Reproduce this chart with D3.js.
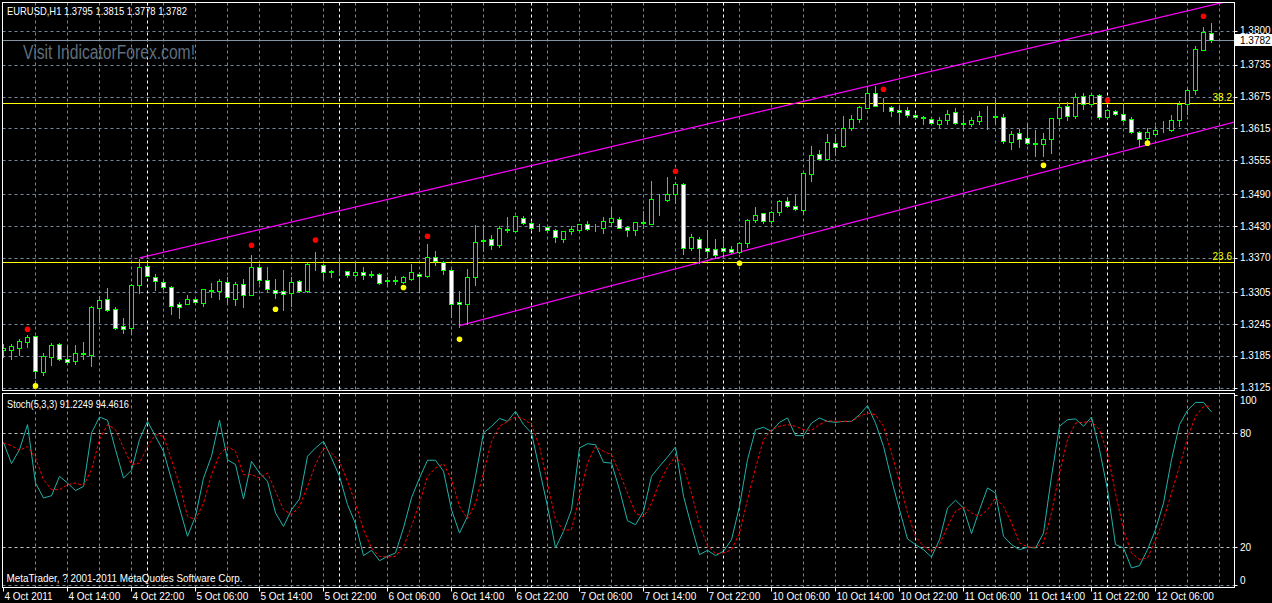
<!DOCTYPE html>
<html><head><meta charset="utf-8">
<script src="https://cdn.jsdelivr.net/npm/d3@7"></script>
<style>html,body{margin:0;padding:0;background:#000;overflow:hidden}</style>
</head><body>
<svg id="c" width="1272" height="603"></svg>
<script>
// ---------- DATA ----------
const symbolTitle = "EURUSD,H1  1.3795 1.3815 1.3778 1.3782";
const stochTitle = "Stoch(5,3,3) 91.2249 94.4616";
const watermark = "Visit IndicatorForex.com!";
const copyright = "MetaTrader, ? 2001-2011 MetaQuotes Software Corp.";

const opens = [1.3196,1.3195,1.3200,1.3211,1.3222,1.3155,1.3183,1.3207,1.3179,1.3176,
1.3190,1.3186,1.3276,1.3292,1.3273,1.3241,1.3237,1.3319,1.3355,1.3334,
1.3324,1.3315,1.3282,1.3283,1.3292,1.3285,1.3309,1.3308,1.3324,1.3293,
1.3321,1.3300,1.3352,1.3329,1.3309,1.3307,1.3304,1.3326,1.3308,1.3356,
1.3357,1.3344,1.3345,1.3345,1.3338,1.3343,1.3338,1.3340,1.3327,1.3328,
1.3325,1.3330,1.3340,1.3335,1.3372,1.3363,1.3348,1.3286,1.3282,1.3333,
1.3402,1.3406,1.3394,1.3425,1.3420,1.3446,1.3436,1.3426,1.3428,1.3423,
1.3406,1.3420,1.3423,1.3434,1.3424,1.3426,1.3437,1.3443,1.3429,1.3423,
1.3437,1.3435,1.3481,1.3479,1.3491,1.3509,1.3389,1.3406,1.3388,1.3386,
1.3388,1.3386,1.3382,1.3398,1.3441,1.3454,1.3439,1.3456,1.3477,1.3469,
1.3461,1.3529,1.3566,1.3557,1.3587,1.3581,1.3615,1.3632,1.3654,1.3681,
1.3658,1.3656,1.3649,1.3649,1.3641,1.3636,1.3632,1.3624,1.3630,1.3645,
1.3625,1.3624,1.3628,1.3638,1.3639,1.3636,1.3590,1.3606,1.3596,1.3587,
1.3586,1.3595,1.3635,1.3657,1.3639,1.3676,1.3661,1.3678,1.3637,1.3647,
1.3643,1.3632,1.3608,1.3596,1.3605,1.3611,1.3612,1.3631,1.3661,1.3687,
1.3764,1.3795];
const highs = [1.3207,1.3207,1.3217,1.3224,1.3222,1.3190,1.3209,1.3209,1.3205,1.3205,
1.3211,1.3280,1.3298,1.3313,1.3278,1.3256,1.3321,1.3368,1.3358,1.3339,
1.3326,1.3316,1.3287,1.3300,1.3294,1.3311,1.3323,1.3330,1.3333,1.3325,
1.3330,1.3375,1.3358,1.3352,1.3330,1.3347,1.3333,1.3329,1.3361,1.3381,
1.3358,1.3347,1.3375,1.3346,1.3363,1.3352,1.3345,1.3342,1.3333,1.3335,
1.3335,1.3358,1.3344,1.3396,1.3383,1.3364,1.3349,1.3307,1.3349,1.3432,
1.3432,1.3414,1.3430,1.3448,1.3449,1.3449,1.3437,1.3434,1.3429,1.3424,
1.3421,1.3430,1.3434,1.3439,1.3435,1.3447,1.3462,1.3448,1.3431,1.3438,
1.3459,1.3515,1.3490,1.3523,1.3514,1.3511,1.3415,1.3409,1.3423,1.3405,
1.3408,1.3393,1.3401,1.3444,1.3466,1.3455,1.3459,1.3480,1.3485,1.3489,
1.3531,1.3582,1.3575,1.3604,1.3604,1.3638,1.3640,1.3657,1.3693,1.3696,
1.3672,1.3657,1.3657,1.3656,1.3642,1.3639,1.3634,1.3637,1.3650,1.3653,
1.3640,1.3636,1.3647,1.3657,1.3672,1.3642,1.3610,1.3614,1.3626,1.3612,
1.3606,1.3635,1.3662,1.3665,1.3681,1.3681,1.3679,1.3679,1.3651,1.3650,
1.3662,1.3637,1.3610,1.3615,1.3619,1.3628,1.3640,1.3667,1.3690,1.3771,
1.3806,1.3815];
const lows = [1.3183,1.3179,1.3186,1.3202,1.3143,1.3148,1.3168,1.3177,1.3170,1.3169,
1.3179,1.3166,1.3248,1.3270,1.3236,1.3228,1.3226,1.3303,1.3335,1.3309,
1.3311,1.3264,1.3256,1.3282,1.3284,1.3280,1.3296,1.3292,1.3282,1.3281,
1.3278,1.3299,1.3323,1.3308,1.3295,1.3271,1.3280,1.3305,1.3305,1.3347,
1.3328,1.3333,1.3337,1.3333,1.3334,1.3330,1.3333,1.3321,1.3317,1.3320,
1.3322,1.3329,1.3306,1.3334,1.3357,1.3340,1.3259,1.3240,1.3245,1.3319,
1.3384,1.3387,1.3391,1.3419,1.3419,1.3434,1.3424,1.3420,1.3419,1.3401,
1.3401,1.3416,1.3420,1.3423,1.3420,1.3418,1.3430,1.3426,1.3411,1.3413,
1.3426,1.3434,1.3451,1.3478,1.3474,1.3378,1.3385,1.3361,1.3372,1.3369,
1.3379,1.3380,1.3379,1.3391,1.3437,1.3436,1.3436,1.3451,1.3467,1.3461,
1.3453,1.3516,1.3555,1.3555,1.3565,1.3579,1.3611,1.3627,1.3653,1.3657,
1.3647,1.3639,1.3623,1.3637,1.3634,1.3623,1.3623,1.3615,1.3623,1.3623,
1.3612,1.3620,1.3623,1.3614,1.3623,1.3588,1.3576,1.3580,1.3585,1.3563,
1.3563,1.3569,1.3622,1.3631,1.3635,1.3651,1.3659,1.3632,1.3634,1.3641,
1.3629,1.3606,1.3582,1.3587,1.3603,1.3609,1.3610,1.3619,1.3643,1.3680,
1.3763,1.3778];
const closes = [1.3200,1.3203,1.3213,1.3220,1.3156,1.3184,1.3205,1.3178,1.3174,1.3190,
1.3189,1.3277,1.3290,1.3272,1.3238,1.3236,1.3319,1.3353,1.3335,1.3326,
1.3315,1.3280,1.3278,1.3292,1.3286,1.3311,1.3308,1.3326,1.3296,1.3321,
1.3299,1.3352,1.3328,1.3311,1.3304,1.3302,1.3325,1.3308,1.3358,1.3357,
1.3343,1.3345,1.3346,1.3338,1.3343,1.3338,1.3339,1.3323,1.3328,1.3327,
1.3333,1.3343,1.3335,1.3371,1.3365,1.3348,1.3283,1.3282,1.3334,1.3401,
1.3404,1.3395,1.3427,1.3423,1.3449,1.3436,1.3426,1.3426,1.3423,1.3409,
1.3420,1.3425,1.3434,1.3424,1.3425,1.3439,1.3445,1.3427,1.3422,1.3437,
1.3436,1.3481,1.3482,1.3491,1.3509,1.3389,1.3409,1.3389,1.3384,1.3376,
1.3383,1.3382,1.3398,1.3442,1.3452,1.3439,1.3456,1.3477,1.3469,1.3463,
1.3530,1.3564,1.3557,1.3589,1.3580,1.3615,1.3632,1.3655,1.3681,1.3658,
1.3657,1.3647,1.3645,1.3640,1.3636,1.3634,1.3625,1.3630,1.3643,1.3625,
1.3624,1.3630,1.3638,1.3639,1.3637,1.3591,1.3604,1.3595,1.3587,1.3586,
1.3595,1.3635,1.3655,1.3639,1.3675,1.3661,1.3678,1.3637,1.3649,1.3643,
1.3631,1.3609,1.3595,1.3608,1.3611,1.3612,1.3631,1.3661,1.3687,1.3765,
1.3797,1.3782];

const stochMain = [75.2,64.0,71.4,84.6,53.8,45.9,47.1,57.3,53.8,49.8,52.0,80.2,88.6,86.9,71.4,56.4,60.5,76.7,86.3,78.4,
70.5,55.6,40.6,25.7,36.2,56.4,67.9,86.9,66.1,63.5,45.4,65.2,59.1,54.7,38.0,30.9,39.7,45.4,67.9,72.3,
75.8,67.0,57.3,42.4,32.3,15.5,18.3,12.8,15.1,16.9,30.1,46.0,
56.4,65.8,65.8,60.0,39.7,27.4,36.2,57.3,80.2,83.7,87.9,86.3,91.6,84.6,80.2,60.8,41.5,19.5,28.3,39.7,
72.3,74.5,74.0,64.7,64.3,50.3,33.9,31.8,38.9,57.3,62.6,67.5,72.8,46.8,30.9,16.0,18.3,15.5,17.8,23.9,
41.5,66.1,81.9,83.2,81.0,85.8,88.1,78.8,78.8,85.4,88.1,
86.3,85.8,86.3,86.3,89.8,94.6,85.4,73.1,55.6,39.7,24.3,21.3,18.6,14.8,23.9,40.6,44.7,40.6,27.1,39.7,
51.2,48.5,25.7,21.3,18.6,20.0,19.5,27.4,57.3,83.7,87.2,87.6,83.7,88.6,71.4,50.3,21.3,19.5,9.0,10.2,
18.6,29.2,43.2,66.1,84.6,92.1,96.3,96.3,91.2249];
const stochSignal = [74.9,73.5,71.0,73.1,67.0,55.6,50.3,50.3,52.9,53.8,52.4,60.8,76.7,84.6,81.9,72.3,63.5,64.3,73.1,79.3,
78.4,66.1,52.9,36.2,34.5,43.2,58.2,68.7,73.1,70.5,58.2,58.2,56.4,59.1,49.4,39.7,37.1,41.5,52.0,63.5,
72.3,69.6,65.2,54.7,43.2,29.2,19.5,15.1,14.8,15.1,20.4,30.9,
43.2,57.3,61.7,64.0,55.6,41.5,34.8,43.2,59.1,75.8,83.7,86.3,88.6,87.6,84.6,73.1,53.8,34.5,28.8,29.2,
46.8,64.3,73.1,70.5,68.7,59.1,48.5,38.0,35.9,43.2,54.1,62.2,67.9,62.6,48.5,31.8,20.7,16.5,16.9,18.6,
27.4,45.0,61.7,76.7,81.9,83.7,84.6,83.7,81.9,81.6,84.6,
86.7,86.3,86.3,86.3,89.0,90.7,89.8,83.7,69.6,54.7,38.0,25.7,20.4,17.8,21.3,30.9,38.9,41.1,38.0,36.2,
39.7,45.9,41.5,32.7,22.2,20.0,19.9,22.2,38.0,59.1,76.7,85.4,85.8,86.3,81.9,69.6,48.5,29.2,16.9,13.4,
14.2,23.9,34.5,48.5,62.6,77.5,89.0,94.2,94.4616];

const priceTicks = ["1.3800","1.3735","1.3675","1.3615","1.3555","1.3490","1.3430","1.3370","1.3305","1.3245","1.3185","1.3125"];
const stochTicks = [100, 80, 20, 0];
const stochLevels = [80, 20];
const timeLabels = ["4 Oct 2011","4 Oct 14:00","4 Oct 22:00","5 Oct 06:00","5 Oct 14:00","5 Oct 22:00","6 Oct 06:00","6 Oct 14:00","6 Oct 22:00","7 Oct 06:00","7 Oct 14:00","7 Oct 22:00","10 Oct 06:00","10 Oct 14:00","10 Oct 22:00","11 Oct 06:00","11 Oct 14:00","11 Oct 22:00","12 Oct 06:00"];
const timeLabelBars = [0,8,16,24,32,40,48,56,64,72,80,88,96,104,112,120,128,136,144];
const daySeparatorBars = [18,42,66,90,114,138];
const currentPrice = 1.3782;
const fibLabels = ["38.2","23.6"];
const fibPrices = [1.3662, 1.3362];
const upperChannelBars = [17, 100], upperChannelPrices = [1.3370, 1.3666];
const lowerChannelBars = [57, 138], lowerChannelPrices = [1.3242, 1.3564];
const upDotBars = [3,31,39,53,84,110,138,150];
const upDotPrices = [1.3235,1.3394,1.3404,1.3411,1.3534,1.3689,1.3668,1.3827];
const downDotBars = [4,34,50,57,92,130,143];
const downDotPrices = [1.3128,1.3273,1.3314,1.3216,1.3360,1.3545,1.3587];

// ---------- LAYOUT ----------
const L = 2.5, R = 1234.5, mTop = 2.5, mBot = 390.5, sTop = 393.5, sBot = 587.5;
const FONT = "'Liberation Sans', Arial, sans-serif";
const GRID = "#778899";

const svg = d3.select("#c");
svg.append("rect").attr("width",1272).attr("height",603).attr("fill","#000");

const x = d3.scaleLinear().domain([0,151]).range([3.5,1211.5]);
const yP = d3.scaleLinear().domain([1.3125,1.3800]).range([387.5,30.5]);
const yS = d3.scaleLinear().domain([0,100]).range([585,395.4]);
const py = v => Math.round(yP(v)) + 0.5;

const defs = svg.append("defs");
defs.append("clipPath").attr("id","mclip").append("rect")
  .attr("x",L+0.5).attr("y",mTop+0.5).attr("width",R-L-1).attr("height",mBot-mTop-1);
defs.append("clipPath").attr("id","sclip").append("rect")
  .attr("x",L+0.5).attr("y",sTop+0.5).attr("width",R-L-1).attr("height",sBot-sTop-1);

// grid - vertical
const gridBars = d3.range(4, 154, 4);
const gv = svg.append("g").attr("stroke",GRID).attr("stroke-dasharray","3,3");
gridBars.forEach(b => {
  if (x(b) >= R) return;
  gv.append("line").attr("x1",x(b)).attr("x2",x(b)).attr("y1",mTop).attr("y2",mBot);
  gv.append("line").attr("x1",x(b)).attr("x2",x(b)).attr("y1",sTop).attr("y2",sBot);
});
// grid - horizontal main
priceTicks.forEach(t => {
  gv.append("line").attr("x1",L).attr("x2",R).attr("y1",py(+t)).attr("y2",py(+t));
});
// stoch bottom grid
gv.append("line").attr("x1",L).attr("x2",R).attr("y1",Math.round(yS(0))+0.5).attr("y2",Math.round(yS(0))+0.5);
// stoch levels
const lv = svg.append("g").attr("stroke","#c0c0c0").attr("stroke-dasharray","3,3");
stochLevels.forEach(v => {
  const yy = Math.round(yS(v))+0.5;
  lv.append("line").attr("x1",L).attr("x2",R).attr("y1",yy).attr("y2",yy);
});
// day separators
const ds = svg.append("g").attr("stroke","#ffffff").attr("stroke-dasharray","3,3");
daySeparatorBars.forEach(b => {
  ds.append("line").attr("x1",x(b)).attr("x2",x(b)).attr("y1",mTop).attr("y2",mBot);
  ds.append("line").attr("x1",x(b)).attr("x2",x(b)).attr("y1",sTop).attr("y2",sBot);
});

// watermark
svg.append("text").attr("x",23).attr("y",59).attr("fill","#5f6e7e")
  .attr("font-family",FONT).attr("font-size",20)
  .attr("textLength",172).attr("lengthAdjust","spacingAndGlyphs").text(watermark);

const main = svg.append("g").attr("clip-path","url(#mclip)");

// fib lines
fibPrices.forEach((p,k) => {
  main.append("line").attr("x1",L).attr("x2",R).attr("y1",py(p)).attr("y2",py(p))
    .attr("stroke","#ffff00");
  svg.append("text").attr("x",1232).attr("y",py(p)-2.5).attr("text-anchor","end")
    .attr("fill","#ffff00").attr("font-family",FONT).attr("font-size",10).text(fibLabels[k]);
});
// current price line
main.append("line").attr("x1",L).attr("x2",R).attr("y1",py(currentPrice)).attr("y2",py(currentPrice))
  .attr("stroke","#8494a4");

// channel rays
function ray(bars, prices) {
  const slope = (prices[1]-prices[0])/(bars[1]-bars[0]);
  const endBar = 175;
  const endPrice = prices[0] + slope*(endBar - bars[0]);
  main.append("line").attr("x1",x(bars[0])).attr("y1",yP(prices[0]))
    .attr("x2",x(endBar)).attr("y2",yP(endPrice))
    .attr("stroke","#ff00ff").attr("stroke-width",1.2);
}
ray(upperChannelBars, upperChannelPrices);
ray(lowerChannelBars, lowerChannelPrices);

// candles
const candles = d3.range(opens.length).map(i => ({i, o:opens[i], h:highs[i], l:lows[i], c:closes[i]}));
const cg = main.append("g");
cg.selectAll("line.wick").data(candles).join("line").attr("class","wick")
  .attr("x1",d=>x(d.i)).attr("x2",d=>x(d.i))
  .attr("y1",d=>Math.round(yP(Math.max(d.h,d.o,d.c))))
  .attr("y2",d=>Math.round(yP(Math.min(d.l,d.o,d.c)))+1)
  .attr("stroke","#00ff00");
cg.selectAll("rect.body").data(candles).join("rect").attr("class","body")
  .attr("x",d=>x(d.i)-2).attr("width",4)
  .attr("y",d=>Math.round(yP(Math.max(d.o,d.c)))+0.5)
  .attr("height",d=>Math.max(0, Math.round(yP(Math.min(d.o,d.c))) - Math.round(yP(Math.max(d.o,d.c)))))
  .attr("fill",d=> d.c < d.o ? "#ffffff" : "#000000")
  .attr("stroke","#00ff00");

// dots
main.selectAll("circle.up").data(upDotBars).join("circle").attr("class","up")
  .attr("cx",(b)=>x(b)).attr("cy",(b,k)=>yP(upDotPrices[k])).attr("r",2.8).attr("fill","#ff0000");
main.selectAll("circle.dn").data(downDotBars).join("circle").attr("class","dn")
  .attr("cx",(b)=>x(b)).attr("cy",(b,k)=>yP(downDotPrices[k])).attr("r",2.8).attr("fill","#ffff00");

// stoch lines
const sg = svg.append("g").attr("clip-path","url(#sclip)");
const line = d3.line().x((v,i)=>x(i)).y(v=>yS(v));
sg.append("path").attr("d",line(stochMain)).attr("fill","none").attr("stroke","#20b2aa").attr("stroke-width",1);
sg.append("path").attr("d",line(stochSignal)).attr("fill","none").attr("stroke","#ff0000")
  .attr("stroke-width",1).attr("stroke-dasharray","3,2");

// borders
svg.append("rect").attr("x",L).attr("y",mTop).attr("width",R-L).attr("height",mBot-mTop)
  .attr("fill","none").attr("stroke","#ffffff");
svg.append("rect").attr("x",L).attr("y",sTop).attr("width",R-L).attr("height",sBot-sTop)
  .attr("fill","none").attr("stroke","#ffffff");

// price axis
const pa = svg.append("g").attr("font-family",FONT).attr("font-size",10).attr("fill","#ffffff");
priceTicks.forEach(t => {
  svg.append("line").attr("x1",R).attr("x2",R+3).attr("y1",py(+t)).attr("y2",py(+t)).attr("stroke","#fff");
  pa.append("text").attr("x",1240).attr("y",yP(+t)).attr("dy","0.35em").text(t);
});
// current price label
svg.append("rect").attr("x",1235).attr("y",Math.round(yP(currentPrice))-6).attr("width",37).attr("height",12).attr("fill","#ffffff");
svg.append("text").attr("x",1240).attr("y",yP(currentPrice)).attr("dy","0.35em")
  .attr("font-family",FONT).attr("font-size",10).attr("fill","#000").text(currentPrice.toFixed(4));

// stoch axis
stochTicks.forEach(v => {
  const yy = Math.min(Math.max(yS(v), 400), 580);
  svg.append("line").attr("x1",R).attr("x2",R+3).attr("y1",Math.round(yS(v))+0.5).attr("y2",Math.round(yS(v))+0.5).attr("stroke","#fff");
  pa.append("text").attr("x",1240).attr("y",yy).attr("dy","0.35em").text(v);
});

// time axis
const ta = svg.append("g").attr("font-family",FONT).attr("font-size",10).attr("fill","#ffffff");
timeLabelBars.forEach((b,k) => {
  svg.append("line").attr("x1",x(b)).attr("x2",x(b)).attr("y1",sBot).attr("y2",sBot+4).attr("stroke","#fff");
  ta.append("text").attr("x",x(b)+1).attr("y",600).text(timeLabels[k]);
});

// titles
svg.append("text").attr("x",7).attr("y",14.5).attr("fill","#fff").attr("font-family",FONT)
  .attr("font-size",11).attr("textLength",180).attr("lengthAdjust","spacingAndGlyphs").text(symbolTitle);
svg.append("text").attr("x",7).attr("y",408).attr("fill","#fff").attr("font-family",FONT)
  .attr("font-size",11).attr("textLength",122).attr("lengthAdjust","spacingAndGlyphs").text(stochTitle);
svg.append("text").attr("x",6.5).attr("y",581.5).attr("fill","#fff").attr("font-family",FONT)
  .attr("font-size",11).attr("textLength",236).attr("lengthAdjust","spacingAndGlyphs").text(copyright);
</script>
</body></html>
